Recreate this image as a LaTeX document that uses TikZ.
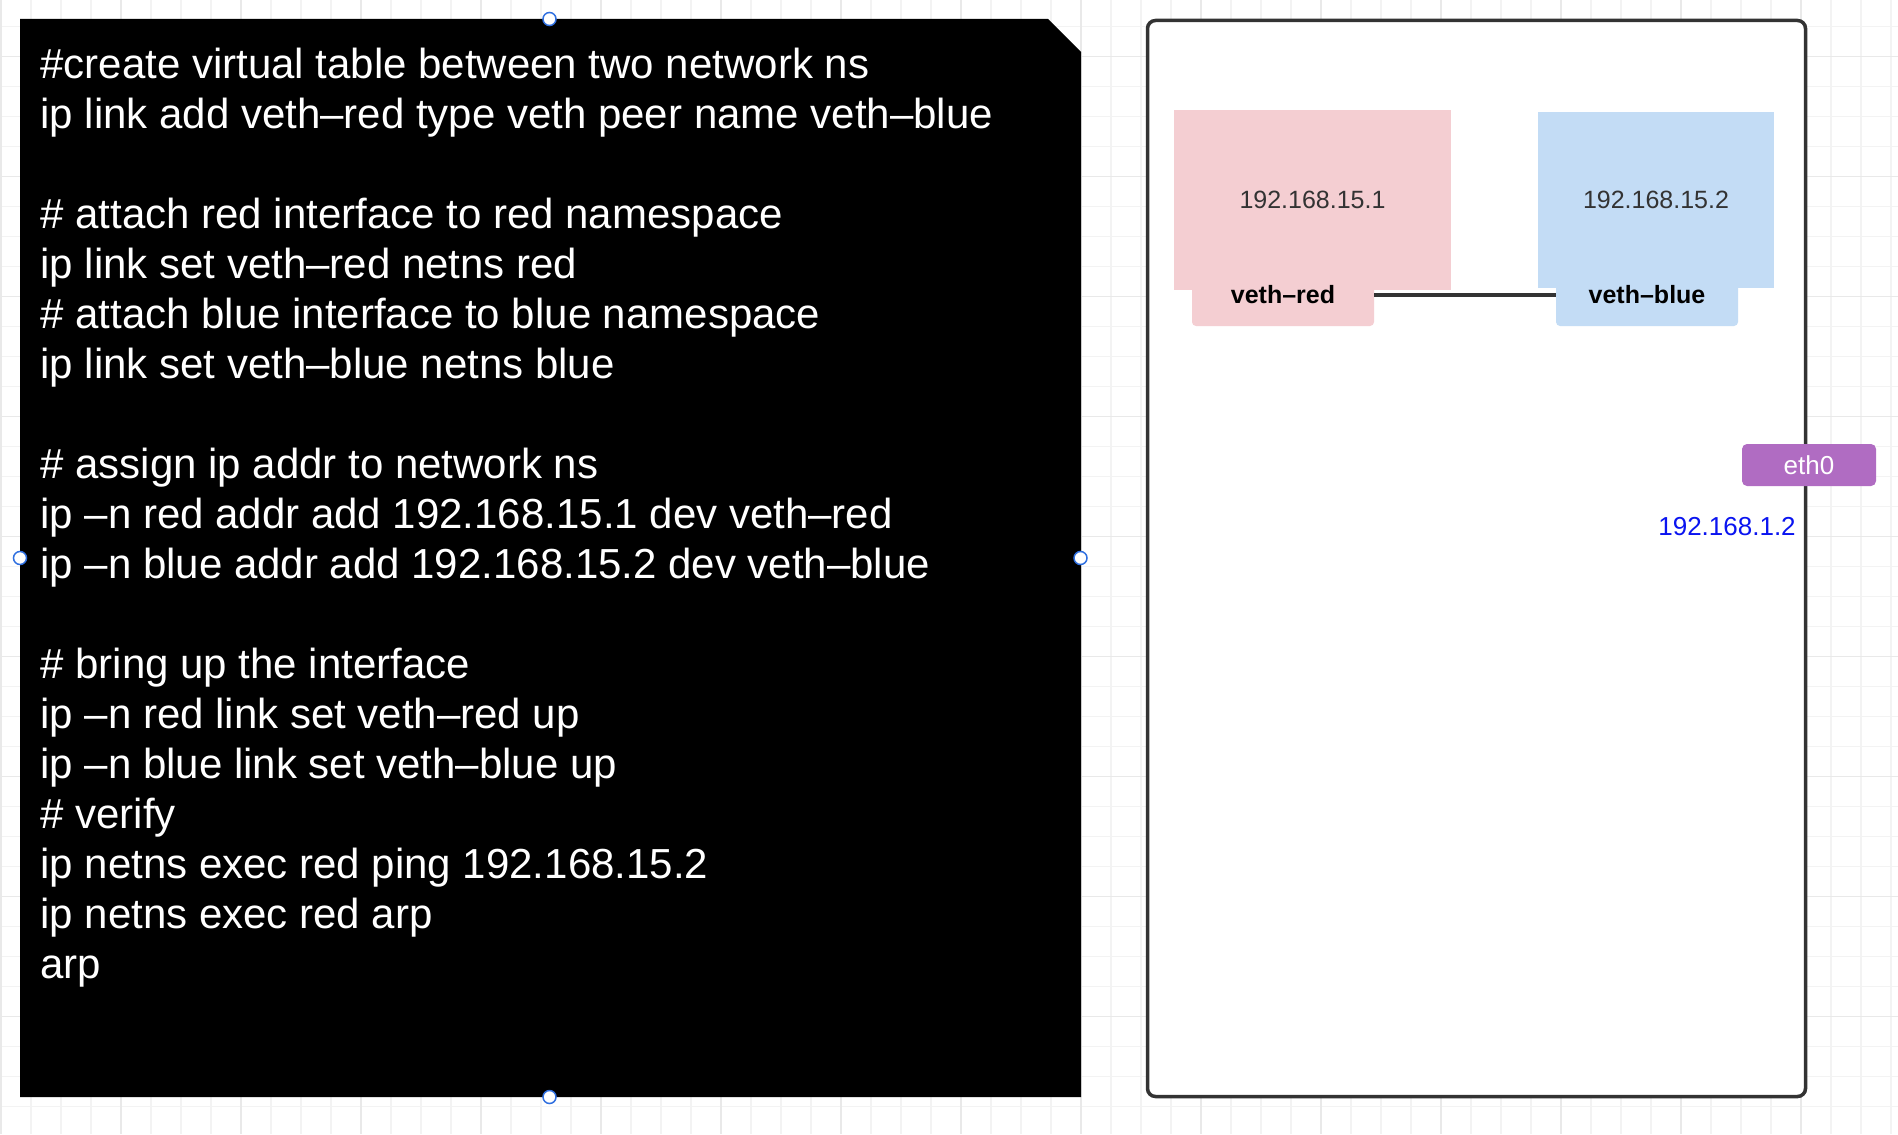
\documentclass[tikz,border=0pt]{standalone}
\usepackage{fontspec}
\setmainfont{Liberation Sans}
\usepackage{xcolor}
\usepackage{tikz}

\definecolor{nsred}{HTML}{F4CED2}
\definecolor{nsblue}{HTML}{C3DCF5}
\definecolor{ethpurple}{HTML}{B06CC2}
\definecolor{darkline}{HTML}{333333}
\definecolor{ipblue}{HTML}{0A14F0}
\definecolor{handleblue}{HTML}{2F6FE0}
\definecolor{gridminor}{HTML}{F3F3F3}
\definecolor{gridmajor}{HTML}{E9E9E9}

\tikzstyle{nsbox} = [rectangle, inner sep=0pt, text=darkline, font=\fontsize{12.5pt}{15pt}\selectfont]
\tikzstyle{iftab} = [rectangle, rounded corners=2pt, minimum width=91pt, minimum height=31pt, inner sep=0pt, font=\bfseries\fontsize{12.5pt}{15pt}\selectfont]
\tikzstyle{hostbox} = [rectangle, draw=darkline, line width=1.75pt, fill=white, rounded corners=4pt, inner sep=0pt, outer sep=0pt]
\tikzstyle{link} = [line width=2pt, draw=darkline]
\tikzstyle{handle} = [circle, draw=handleblue, fill=white, line width=0.75pt, minimum size=6.5pt, inner sep=0pt]

\begin{document}
\begin{tikzpicture}[x=0.5pt, y=-0.5pt]
\useasboundingbox (0,0) rectangle (1898,1134);
\fill[white] (0,0) rectangle (1898,1134);

% grid
\foreach \gx in {1,31,...,1898} \draw[gridminor, line width=0.75pt] (\gx,0) -- (\gx,1134);
\foreach \gy in {26.6,56.6,...,1134} \draw[gridminor, line width=0.75pt] (0,\gy) -- (1898,\gy);
\foreach \gx in {1,121,...,1898} \draw[gridmajor, line width=0.75pt] (\gx,0) -- (\gx,1134);
\foreach \gy in {56.6,176.6,...,1134} \draw[gridmajor, line width=0.75pt] (0,\gy) -- (1898,\gy);

% command block
\fill[black] (20,19) -- (1048,19) -- (1081,52) -- (1081,1097) -- (20,1097) -- cycle;
\node (cmds) [anchor=north west, inner sep=0pt, align=left, text=white, font=\fontsize{21pt}{25pt}\selectfont] at (40,48) {%
\#create virtual table between two network ns\\
ip link add veth–red type veth peer name veth–blue\\
\mbox{}\\
\# attach red interface to red namespace\\
ip link set veth–red netns red\\
\# attach blue interface to blue namespace\\
ip link set veth–blue netns blue\\
\mbox{}\\
\# assign ip addr to network ns\\
ip –n red addr add 192.168.15.1 dev veth–red\\
ip –n blue addr add 192.168.15.2 dev veth–blue\\
\mbox{}\\
\# bring up the interface\\
ip –n red link set veth–red up\\
ip –n blue link set veth–blue up\\
\# verify\\
ip netns exec red ping 192.168.15.2\\
ip netns exec red arp\\
arp};

\node (htop) [handle] at (549.5,19) {};
\node (hleft) [handle] at (20,558) {};
\node (hright) [handle] at (1080.5,558) {};
\node (hbottom) [handle] at (549.5,1097) {};

% host
\node (host) [hostbox, anchor=north west, minimum width=329pt, minimum height=538pt] at (1147.5,20.5) {};

\node (redns) [nsbox, fill=nsred, minimum width=138.5pt, minimum height=90pt] at (1312.5,200) {192.168.15.1};
\node (bluens) [nsbox, fill=nsblue, minimum width=118pt, minimum height=88pt] at (1656,200) {192.168.15.2};
\node (vethred) [iftab, fill=nsred] at (1283,295) {veth–red};
\node (vethblue) [iftab, fill=nsblue] at (1647,295) {veth–blue};

\draw [link] (vethred.east) -- (vethblue.west);

\node (eth0) [rectangle, rounded corners=2.5pt, fill=ethpurple, text=white, minimum width=67pt, minimum height=21pt, inner sep=0pt, font=\fontsize{13pt}{15pt}\selectfont] at (1809,465) {eth0};
\node (hostip) [text=ipblue, inner sep=0pt, font=\fontsize{13pt}{16pt}\selectfont] at (1727,527) {192.168.1.2};

\end{tikzpicture}
\end{document}
